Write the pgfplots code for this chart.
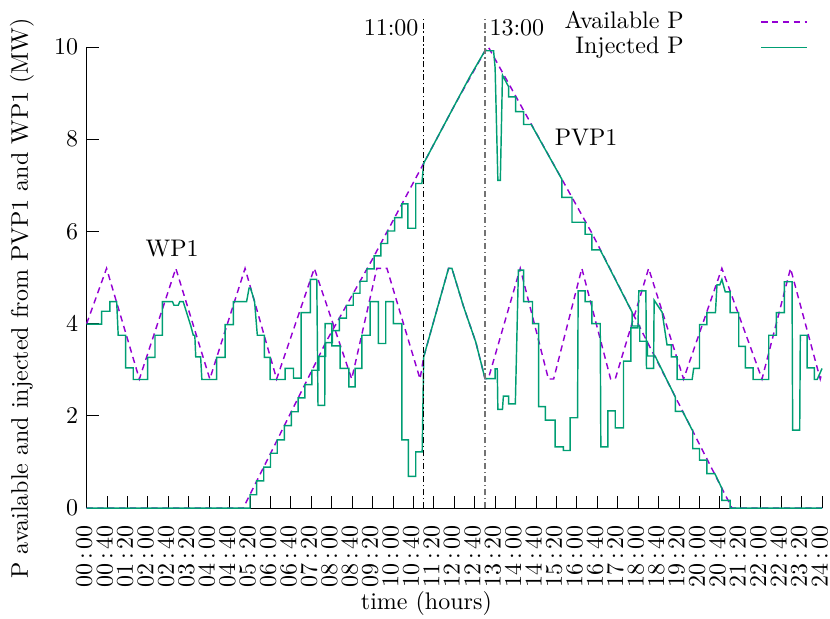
\documentclass[border=0pt]{standalone}
\usepackage{pgfplots}
\pgfplotsset{compat=1.18}
\usetikzlibrary{calc}
\definecolor{gpviolet}{RGB}{148,0,211}
\definecolor{gpgreen}{RGB}{0,158,115}
\newcommand{\hm}[2]{#1\kern1.6pt:\kern1.6pt#2}

\begin{document}
\begin{tikzpicture}
\begin{axis}[
  name=ax,
  scale only axis,
  width=306.4pt, height=192.1pt,
  xmin=0, xmax=24, ymin=0, ymax=10,
  axis lines*=left,
  axis line style={-, line width=0.5pt},
  clip=false,
  tick align=inside,
  major tick length=5pt,
  tick style={black, line width=0.4pt},
  ytick={0,2,4,6,8,10},
  xtick={0,0.66667,1.33333,2,2.66667,3.33333,4,4.66667,5.33333,6,6.66667,7.33333,8,8.66667,9.33333,10,10.66667,11.33333,12,12.66667,13.33333,14,14.66667,15.33333,16,16.66667,17.33333,18,18.66667,19.33333,20,20.66667,21.33333,22,22.66667,23.33333,24},
  xticklabels={\hm{00}{00},\hm{00}{40},\hm{01}{20},\hm{02}{00},\hm{02}{40},\hm{03}{20},\hm{04}{00},\hm{04}{40},\hm{05}{20},\hm{06}{00},\hm{06}{40},\hm{07}{20},\hm{08}{00},\hm{08}{40},\hm{09}{20},\hm{10}{00},\hm{10}{40},\hm{11}{20},\hm{12}{00},\hm{12}{40},\hm{13}{20},\hm{14}{00},\hm{14}{40},\hm{15}{20},\hm{16}{00},\hm{16}{40},\hm{17}{20},\hm{18}{00},\hm{18}{40},\hm{19}{20},\hm{20}{00},\hm{20}{40},\hm{21}{20},\hm{22}{00},\hm{22}{40},\hm{23}{20},\hm{24}{00}},
  xticklabel style={yshift=-3.5pt, xshift=-1pt, rotate=90, anchor=east},
  xlabel={time (hours)},
  ylabel={P available and injected from PVP1 and WP1 (MW)},
  xlabel style={at={(rel axis cs:0.462,-0.206)}, anchor=center},
  ylabel style={at={(rel axis cs:-0.088,0.455)}, anchor=center},
  legend plot pos=right,
  legend cell align=right,
  legend style={draw=none, fill=none, at={(rel axis cs:0.981,1.083)}, anchor=north east,
    column sep=30pt, row sep=0pt, inner sep=0pt, nodes={inner ysep=1pt}},
  legend image code/.code={\draw[#1] (0pt,0pt) -- (19pt,0pt);},
]
% available power of WP1
\addplot[gpviolet, line width=0.6pt, dash pattern=on 2.6pt off 1.9pt] coordinates {
  (0,4.0) (0.65,5.2) (1.72,2.8) (2.91,5.2) (4.02,2.8) (5.17,5.2) (6.2,2.8) (7.43,5.2)
  (8.65,2.8) (9.47,5.2) (9.8,5.2) (10.88,2.8) (11.0,3.28) (11.81,5.2) (11.92,5.2)
  (12.3,4.37) (12.7,3.6) (13.0,2.81) (13.11,2.81) (14.15,5.2) (15.07,2.8) (15.24,2.8)
  (16.16,5.2) (17.1,2.8) (17.25,2.8) (18.34,5.2) (19.48,2.8) (20.73,5.2) (22.04,2.8)
  (22.97,5.2) (23.94,2.8) (24,2.95)
};
\addlegendentry{Available P}
% available power of PVP1
\addplot[gpviolet, line width=0.6pt, dash pattern=on 2.6pt off 1.9pt, forget plot] coordinates {
  (0,0) (5.11,0) (7.84,3.64) (9.31,5.38) (11.0,7.48) (12.0,8.73) (13.07,10.0) (13.11,10.0)
  (16.5,5.95) (21.06,0) (24,0)
};
% injected power of WP1
\addplot[gpgreen, line width=0.6pt] coordinates {
  (0,3.99) (0.49,3.99) (0.49,4.27) (0.76,4.27) (0.76,4.48) (0.98,4.48) (1.03,3.75) (1.27,3.75)
  (1.27,3.04) (1.52,3.04) (1.52,2.79) (1.99,2.79) (1.99,3.27) (2.23,3.27) (2.23,3.75) (2.47,3.75)
  (2.47,4.48) (2.80,4.48) (2.85,4.40) (2.99,4.40) (3.04,4.48) (3.15,4.48) (3.40,3.95) (3.48,3.75)
  (3.53,3.75) (3.56,3.28) (3.72,3.28) (3.76,2.79) (4.24,2.79) (4.24,3.27) (4.52,3.27) (4.52,3.98)
  (4.79,3.98) (4.79,4.48) (5.22,4.48) (5.30,4.77) (5.35,4.77) (5.48,4.48) (5.57,3.75) (5.80,3.75)
  (5.80,3.27) (5.99,3.27) (5.99,2.79) (6.48,2.79) (6.48,3.03) (6.75,3.03) (6.75,2.82) (7.00,2.82)
  (7.00,4.24) (7.30,4.24) (7.30,4.96) (7.51,4.96) (7.55,2.23) (7.77,2.23) (7.78,4.00) (8.00,4.00)
  (8.00,3.52) (8.27,3.52) (8.27,3.03) (8.56,3.03) (8.56,2.63) (8.76,2.63) (8.76,3.03) (8.98,3.03)
  (8.98,3.75) (9.25,3.75) (9.25,4.48) (9.52,4.48) (9.52,3.57) (9.76,3.57) (9.76,4.48) (10.01,4.48)
  (10.01,4.00) (10.29,4.00) (10.29,1.48) (10.50,1.48) (10.50,0.69) (10.74,0.69) (10.74,1.22) (10.95,1.22)
  (11.00,3.28) (11.81,5.20) (11.92,5.20) (12.30,4.37) (12.70,3.60) (13.00,2.81) (13.33,2.81) (13.33,3.02)
  (13.40,3.02) (13.42,2.14) (13.57,2.14) (13.60,2.43) (13.77,2.43) (13.77,2.26) (13.99,2.26) (14.09,5.16)
  (14.26,5.16) (14.26,4.48) (14.55,4.48) (14.55,4.00) (14.75,4.00) (14.75,2.20) (14.97,2.20) (14.97,1.91)
  (15.29,1.91) (15.29,1.33) (15.56,1.33) (15.56,1.25) (15.78,1.25) (15.78,1.96) (16.02,1.96) (16.04,4.71)
  (16.27,4.71) (16.27,4.48) (16.49,4.48) (16.49,4.00) (16.76,4.00) (16.78,1.33) (17.01,1.33) (17.01,2.11)
  (17.25,2.11) (17.25,1.74) (17.52,1.74) (17.52,3.19) (17.76,3.19) (17.76,3.91) (17.99,3.91) (18.02,4.71)
  (18.25,4.71) (18.27,3.03) (18.50,3.03) (18.52,4.51) (18.78,4.25) (18.94,3.54) (19.08,3.54) (19.08,3.28)
  (19.27,3.28) (19.27,2.79) (19.76,2.79) (19.81,3.03) (20.00,3.03) (20.00,3.98) (20.24,3.98) (20.24,4.24)
  (20.52,4.24) (20.57,4.84) (20.66,4.84) (20.73,4.96) (20.84,4.69) (21.00,4.69) (21.00,4.24) (21.28,4.24)
  (21.28,3.51) (21.50,3.51) (21.50,3.04) (21.75,3.04) (21.75,2.79) (22.26,2.79) (22.26,3.75) (22.51,3.75)
  (22.51,4.24) (22.77,4.24) (22.77,4.91) (23.02,4.91) (23.04,1.69) (23.27,1.69) (23.29,3.75) (23.51,3.75)
  (23.51,3.04) (23.75,3.04) (23.75,2.79) (23.84,2.79) (24.00,3.03)
};
\addlegendentry{Injected P}
% injected power of PVP1
\addplot[gpgreen, line width=0.6pt, forget plot] coordinates {
  (0,0) (5.33,0) (5.33,0.29) (5.55,0.29) (5.55,0.59) (5.78,0.59) (5.78,0.89) (6.00,0.89)
  (6.00,1.19) (6.22,1.19) (6.22,1.48) (6.45,1.48) (6.45,1.79) (6.68,1.79) (6.68,2.09) (6.90,2.09)
  (6.90,2.39) (7.12,2.39) (7.12,2.68) (7.35,2.68) (7.35,2.99) (7.58,2.99) (7.58,3.29) (7.80,3.29)
  (7.80,3.59) (8.02,3.59) (8.02,3.85) (8.25,3.85) (8.25,4.12) (8.48,4.12) (8.48,4.40) (8.70,4.40)
  (8.70,4.66) (8.92,4.66) (8.92,4.92) (9.15,4.92) (9.15,5.19) (9.38,5.19) (9.38,5.47) (9.60,5.47)
  (9.60,5.74) (9.82,5.74) (9.82,6.01) (10.05,6.01) (10.05,6.30) (10.29,6.30) (10.29,6.60) (10.48,6.60)
  (10.48,6.07) (10.74,6.07) (10.74,7.04) (10.94,7.04) (11.00,7.48) (12.00,8.73) (12.50,9.35) (13.00,9.92)
  (13.28,9.92) (13.33,9.55) (13.42,7.11) (13.50,7.11) (13.57,9.39) (13.77,9.14) (13.77,8.92) (14.00,8.92)
  (14.00,8.60) (14.26,8.60) (14.26,8.32) (14.51,8.32) (15.51,7.13) (15.51,6.74) (15.84,6.74) (15.84,6.20)
  (16.27,6.20) (16.27,5.94) (16.49,5.94) (16.49,5.60) (16.76,5.60) (17.80,4.25) (17.80,3.95) (18.05,3.95)
  (18.05,3.62) (18.30,3.62) (18.30,3.30) (18.55,3.30) (19.21,2.41) (19.21,2.10) (19.45,2.10) (19.74,1.72)
  (19.78,1.69) (19.78,1.29) (20.00,1.29) (20.00,1.04) (20.24,1.04) (20.24,0.75) (20.50,0.75) (20.73,0.43)
  (20.73,0.17) (21.00,0.17) (21.00,0) (24,0)
};
% 11:00 and 13:00 markers
\addplot[black, line width=0.4pt, dash pattern=on 2.5pt off 1.2pt on 0.5pt off 1.2pt, forget plot]
  coordinates {(11,0) (11,10.6)};
\addplot[black!55, line width=0.8pt, dash pattern=on 2.5pt off 1.2pt on 0.5pt off 1.2pt, forget plot]
  coordinates {(13,0) (13,10.6)};
\node[anchor=east, inner sep=2pt] at (axis cs:11,10.41) {11:00};
\node[anchor=west, inner sep=1.7pt] at (axis cs:13,10.41) {13:00};
\node at (axis cs:2.79,5.62) {WP1};
\node at (axis cs:16.3,8.03) {PVP1};
\end{axis}
\pgfresetboundingbox
\useasboundingbox ($(ax.south west)+(-36.1pt,-45.8pt)$) rectangle ($(ax.north east)+(3.3pt,19.6pt)$);
\end{tikzpicture}
\end{document}
